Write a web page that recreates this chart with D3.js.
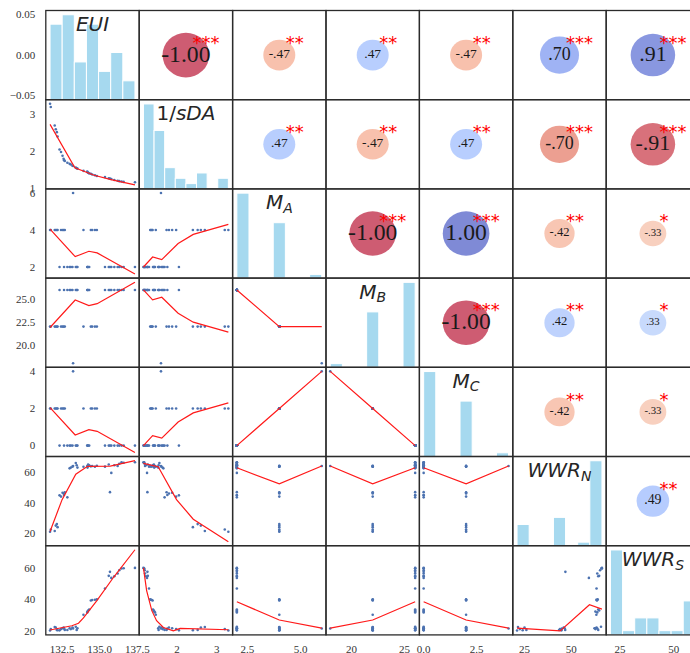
<!DOCTYPE html>
<html>
<head>
<meta charset="utf-8">
<script src="https://cdn.jsdelivr.net/npm/d3@7"></script>
<style>
  body { margin: 0; background: #fff; }
  svg { display: block; }
</style>
</head>
<body>
<svg id="chart" width="690" height="653"></svg>
<script>
// ---- sample values (39 cases) ----
const eui = [131.70, 131.75, 132.01, 132.08, 132.15, 132.20, 132.33, 132.43, 132.53, 132.60,
             132.63, 132.68, 132.85, 133.00, 133.08, 133.19, 133.23, 133.41, 133.47, 133.52,
             133.92, 134.17, 134.19, 134.23, 134.30, 134.41, 134.50, 134.68, 134.81, 135.35,
             135.60, 135.68, 135.77, 135.97, 136.19, 136.30, 136.45, 136.59, 137.34];
const invSda = [3.29, 3.20, 2.70, 2.60, 2.52, 2.40, 2.05, 1.98, 1.88, 1.80,
                1.76, 1.74, 1.69, 1.66, 1.64, 1.61, 1.60, 1.56, 1.54, 1.53,
                1.47, 1.45, 1.43, 1.42, 1.40, 1.39, 1.37, 1.35, 1.33, 1.30,
                1.27, 1.26, 1.25, 1.22, 1.20, 1.19, 1.18, 1.17, 1.16];
const mA = [4, 4, 4, 4, 4, 4, 2, 4, 4, 4, 2, 4, 2, 2, 2, 2, 6, 2, 2, 2,
            4, 2, 2, 2, 2, 4, 4, 4, 4, 2, 2, 2, 2, 2, 2, 2, 2, 2, 2];
const mB = [22, 22, 22, 22, 22, 22, 26, 22, 22, 22, 26, 22, 26, 26, 26, 26, 18, 26, 26, 26,
            22, 26, 26, 26, 26, 22, 22, 22, 22, 26, 26, 26, 26, 26, 26, 26, 26, 26, 26];
const mC = [2, 2, 2, 2, 2, 2, 0, 2, 2, 2, 0, 2, 0, 0, 0, 0, 4, 0, 0, 0,
            2, 0, 0, 0, 0, 2, 2, 2, 2, 0, 0, 0, 0, 0, 0, 0, 0, 0, 0];
const wwrN = [21.0, 22.5, 21.5, 25.0, 26.0, 24.0, 44.8, 44.0, 46.5, 46.0,
              45.0, 46.8, 43.5, 62.5, 63.0, 63.6, 64.0, 66.0, 64.5, 63.0,
              63.5, 64.0, 63.0, 65.0, 64.5, 63.8, 64.0, 63.5, 64.2, 63.6,
              65.0, 46.9, 59.5, 64.5, 64.0, 65.5, 66.5, 66.2, 66.5];
const wwrS = [20.6, 21.5, 22.8, 22.5, 21.0, 20.8, 20.7, 21.5, 22.0, 22.5,
              21.8, 21.0, 20.9, 22.0, 21.5, 22.5, 21.9, 23.0, 21.0, 22.0,
              30.5, 32.0, 32.5, 33.2, 33.8, 39.5, 39.8, 40.0, 40.2, 47.0,
              55.0, 57.5, 53.7, 54.7, 56.5, 58.5, 59.6, 59.8, 60.0];

// histogram bin counts on the diagonal, one per variable
const binCounts = [7, 8, 7, 7, 7, 7, 7];

// tick values (row = left axis, column = bottom axis)
const rowTicks = [[-0.05, 0, 0.05], [1, 2, 3], [2, 4, 6], [20, 22.5, 25], [0, 2, 4], [20, 40, 60], [20, 40, 60]];
const rowTickFormats = [".2f", "d", "d", ".1f", "d", "d", "d"];
const colTicks = [[132.5, 135, 137.5], [2, 3], [2.5, 5], [20, 25], [0, 2.5], [25, 50], [25, 50]];
const colTickFormats = [".1f", "d", ".1f", "d", ".1f", "d", "d"];

// rank correlations for the upper triangle, row by row: (0,1) (0,2) ... (5,6)
const corrR = [-1.00, -0.47, 0.47, -0.47, 0.70, 0.91,
               0.47, -0.47, 0.47, -0.70, -0.91,
               -1.00, 1.00, -0.42, -0.33,
               -1.00, 0.42, 0.33,
               -0.42, -0.33,
               0.49];
const corrStars = ["***", "**", "**", "**", "***", "***",
                   "**", "**", "**", "***", "***",
                   "***", "***", "**", "*",
                   "***", "**", "*",
                   "**", "*",
                   "**"];

// smoothed trend lines for the lower triangle: [x, y] in data units
const fit_1_0 = [[131.70, 2.73], [133.35, 1.55], [134.63, 1.35], [135.75, 1.23], [137.34, 1.09]];
const fit_2_0 = [[131.70, 4.05], [133.37, 2.56], [134.28, 2.85], [134.83, 2.76], [137.34, 1.62]];
const fit_3_0 = [[131.70, 21.9], [133.37, 24.9], [134.28, 24.3], [134.83, 24.5], [137.34, 26.85]];
const fit_4_0 = [[131.70, 2.05], [133.37, 0.57], [134.28, 0.86], [134.83, 0.77], [137.34, -0.37]];
const fit_5_0 = [[131.70, 21.2], [132.50, 42.0], [133.41, 58.7], [134.19, 63.8], [135.70, 64.0], [137.34, 67.6]];
const fit_6_0 = [[131.70, 20.95], [133.15, 23.6], [133.59, 25.2], [133.92, 28.5], [134.81, 39.4], [135.92, 54.1], [137.34, 71.4]];
const fit_2_1 = [[1.16, 2.0], [1.39, 2.54], [1.62, 2.40], [2.03, 3.27], [2.41, 3.76], [3.29, 4.3]];
const fit_3_1 = [[1.16, 26.0], [1.39, 24.92], [1.62, 25.2], [2.03, 23.46], [2.41, 22.48], [3.29, 21.4]];
const fit_4_1 = [[1.16, 0.0], [1.39, 0.54], [1.62, 0.40], [2.03, 1.27], [2.41, 1.76], [3.29, 2.3]];
const fit_5_1 = [[1.16, 65.7], [1.53, 63.6], [1.99, 42.0], [2.41, 29.2], [3.29, 14.5]];
const fit_6_1 = [[1.16, 60.0], [1.24, 45.7], [1.37, 33.1], [1.49, 26.8], [1.66, 22.5], [1.91, 20.4], [2.08, 21.9], [3.29, 21.1]];
const fit_3_2 = [[2, 26.0], [4, 22.0], [6, 22.0]];
const fit_4_2 = [[2, 0.0], [4, 2.0], [6, 4.0]];
const fit_5_2 = [[2, 62.9], [4, 52.3], [6, 64.0]];
const fit_6_2 = [[2, 38.7], [4, 27.2], [6, 22.1]];
const fit_4_3 = [[18, 4.0], [22, 2.0], [26, 0.0]];
const fit_5_3 = [[18, 64.0], [22, 52.3], [26, 62.9]];
const fit_6_3 = [[18, 22.1], [22, 27.2], [26, 38.7]];
const fit_5_4 = [[0, 62.9], [2, 52.3], [4, 64.0]];
const fit_6_4 = [[0, 38.7], [2, 27.2], [4, 22.1]];
const fit_6_5 = [[21.0, 22.1], [44.1, 20.4], [59.8, 36.8], [66.5, 34.1]];

// diagonal titles: [text, style] pieces (i = italic, n = upright, s = subscript)
const diagLabels = [
  [["EUI", "i"]],
  [["1/", "n"], ["sDA", "i"]],
  [["M", "i"], ["A", "s"]],
  [["M", "i"], ["B", "s"]],
  [["M", "i"], ["C", "s"]],
  [["WWR", "i"], ["N", "s"]],
  [["WWR", "i"], ["S", "s"]]
];

// ---- layout ----
const vars = [eui, invSda, mA, mB, mC, wwrN, wwrS];
const fits = {
  "1,0": fit_1_0, "2,0": fit_2_0, "3,0": fit_3_0, "4,0": fit_4_0, "5,0": fit_5_0, "6,0": fit_6_0,
  "2,1": fit_2_1, "3,1": fit_3_1, "4,1": fit_4_1, "5,1": fit_5_1, "6,1": fit_6_1,
  "3,2": fit_3_2, "4,2": fit_4_2, "5,2": fit_5_2, "6,2": fit_6_2,
  "4,3": fit_4_3, "5,3": fit_5_3, "6,3": fit_6_3,
  "5,4": fit_5_4, "6,4": fit_6_4,
  "6,5": fit_6_5
};
const nv = vars.length;
const X0 = 45.8, Y0 = 10.5, W = 93.4, H = 89.2;
const serif = "'Liberation Serif', 'Times New Roman', 'DejaVu Serif', serif";
const sans = "'DejaVu Sans', sans-serif";

function pad(ext) { const d = ext[1] - ext[0]; return [ext[0] - 0.05 * d, ext[1] + 0.05 * d]; }

const xDomains = vars.map(v => pad(d3.extent(v)));
const yDomains = vars.map((v, i) => {
  if (i === 0) return [-0.055, 0.055];
  const vals = v.slice();
  for (let j = 0; j < i; j++) fits[`${i},${j}`].forEach(p => vals.push(p[1]));
  return pad(d3.extent(vals));
});

// reversed coolwarm: negative -> red, positive -> blue
const coolwarm = d3.scaleLinear()
  .domain([0, 0.125, 0.25, 0.375, 0.5, 0.625, 0.75, 0.875, 1])
  .range(["#3b4cc0", "#6282ea", "#8db0fe", "#b8d0f9", "#dddcdc", "#f5c4ac", "#f49a7b", "#de604d", "#b40426"])
  .interpolate(d3.interpolateRgb);
const corrColor = r => coolwarm((1 - r) / 2);
const rxScale = d3.scaleSqrt().domain([0, 1]).range([0, 0.25 * W]);
const ryScale = d3.scaleSqrt().domain([0, 1]).range([0, 0.25 * H]);
const corrFont = d3.scaleLinear().domain([0, 1]).range([4.4, 23.7]);
const fmtR = r => r.toFixed(2).replace(/^(-?)0\./, "$1.");

const svg = d3.select("#chart");
const defs = svg.append("defs");
const plot = svg.append("g");

let k = 0;
const pairIndex = {};
for (let i = 0; i < nv; i++) for (let j = i + 1; j < nv; j++) pairIndex[`${i},${j}`] = k++;

for (let i = 0; i < nv; i++) {
  for (let j = 0; j < nv; j++) {
    const cx = X0 + j * W, cy = Y0 + i * H;
    const x = d3.scaleLinear().domain(xDomains[j]).range([cx, cx + W]);
    const y = d3.scaleLinear().domain(yDomains[i]).range([cy + H, cy]);
    const id = `clip-${i}-${j}`;
    defs.append("clipPath").attr("id", id)
      .append("rect").attr("x", cx).attr("y", cy).attr("width", W).attr("height", H);
    const g = plot.append("g").attr("clip-path", `url(#${id})`);

    if (i === j) {
      const v = vars[i];
      const [lo, hi] = d3.extent(v);
      const nb = binCounts[i];
      const thresholds = d3.range(1, nb).map(t => lo + t * (hi - lo) / nb);
      const bins = d3.bin().domain([lo, hi]).thresholds(thresholds)(v);
      const hy = d3.scaleLinear().domain([0, d3.max(bins, b => b.length) * 1.05]).range([cy + H, cy]);
      g.selectAll("rect.bar").data(bins).join("rect")
        .attr("class", "bar")
        .attr("x", b => x(b.x0))
        .attr("width", b => x(b.x1) - x(b.x0))
        .attr("y", b => hy(b.length))
        .attr("height", b => hy(0) - hy(b.length))
        .attr("fill", "#a6d9ef")
        .attr("stroke", "#fff")
        .attr("stroke-width", 1);
    } else if (i > j) {
      g.selectAll("circle.pt").data(d3.range(vars[i].length)).join("circle")
        .attr("class", "pt")
        .attr("cx", n => x(vars[j][n]))
        .attr("cy", n => y(vars[i][n]))
        .attr("r", 1.3)
        .attr("fill", "#4c72b0");
      g.append("path").datum(fits[`${i},${j}`])
        .attr("d", d3.line().x(d => x(d[0])).y(d => y(d[1])))
        .attr("fill", "none")
        .attr("stroke", "#ff1a1a")
        .attr("stroke-width", 1.2);
    } else {
      const p = pairIndex[`${i},${j}`];
      const r = corrR[p];
      const ex = cx + W / 2, ey = cy + H / 2;
      g.append("ellipse")
        .attr("cx", ex).attr("cy", ey)
        .attr("rx", rxScale(Math.abs(r))).attr("ry", ryScale(Math.abs(r)))
        .attr("fill", corrColor(r))
        .attr("fill-opacity", 0.65);
      const fs = corrFont(Math.abs(r));
      g.append("text")
        .attr("x", ex).attr("y", ey - 1.5 + 0.338 * fs)
        .attr("text-anchor", "middle")
        .attr("font-family", serif)
        .attr("font-size", fs)
        .attr("fill", "#1a1a1a")
        .text(fmtR(r));
      g.append("text")
        .attr("x", cx + 0.57 * W).attr("y", cy + 27.5 + 0.595 * 18)
        .attr("font-family", sans)
        .attr("font-size", 18)
        .attr("fill", "#ff0000")
        .text(corrStars[p]);
    }

    // diagonal title
    if (i === j) {
      const t = plot.append("text")
        .attr("x", cx + W / 2).attr("y", cy + 20.5)
        .attr("text-anchor", "middle")
        .attr("font-family", sans)
        .attr("font-size", 20)
        .attr("fill", "#262626");
      diagLabels[i].forEach(([s, style]) => {
        const ts = t.append("tspan").text(s);
        if (style === "i") ts.attr("font-style", "italic");
        if (style === "s") ts.attr("font-style", "italic").attr("font-size", 14).attr("dy", 3.5);
      });
    }

    // frame
    plot.append("rect")
      .attr("x", cx).attr("y", cy).attr("width", W).attr("height", H)
      .attr("fill", "none").attr("stroke", "#2b2b2b").attr("stroke-width", 1.3);

    // left tick labels
    if (j === 0) {
      const f = d3.format(rowTickFormats[i]);
      rowTicks[i].forEach(tv => {
        plot.append("text")
          .attr("x", 35.3).attr("y", y(tv) + 3.8)
          .attr("text-anchor", "end")
          .attr("font-family", serif).attr("font-size", 11)
          .attr("fill", "#333")
          .text(f(tv));
      });
    }
    // bottom tick labels
    if (i === nv - 1) {
      const f = d3.format(colTickFormats[j]);
      colTicks[j].forEach(tv => {
        plot.append("text")
          .attr("x", x(tv)).attr("y", 652.5)
          .attr("text-anchor", "middle")
          .attr("font-family", serif).attr("font-size", 11)
          .attr("fill", "#333")
          .text(f(tv));
      });
    }
  }
}
</script>
</body>
</html>
